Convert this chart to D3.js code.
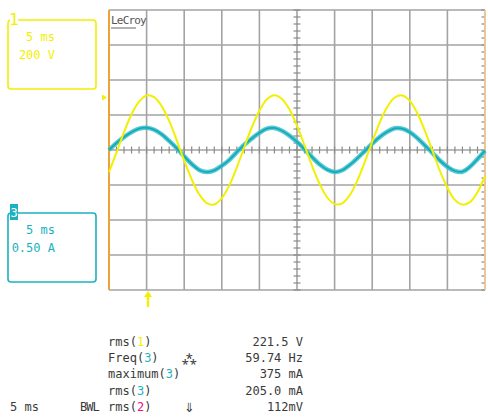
<!DOCTYPE html>
<html>
<head>
<meta charset="utf-8">
<title>LeCroy capture</title>
<script src="https://cdn.jsdelivr.net/npm/d3@7"></script>
<style>
  body { margin: 0; background: #fff; }
  svg { display: block; }
  text { font-family: "DejaVu Sans Mono", "Liberation Mono", monospace; }
</style>
</head>
<body>
<div id="scope"></div>
<script>
// time base, ms (5 ms/div, 10 div)
const timeMs = d3.range(0, 51);
// channel 1, volts (200 V/div)
const ch1Volts = [-127, -14, 102, 204, 276, 311, 302, 251, 166, 57,
  -60, -168, -253, -303, -311, -275, -202, -99, 17, 130,
  224, 290, 313, 292, 232, 139, 26, -90, -193, -270,
  -309, -305, -259, -177, -70, 47, 157, 246, 300, 312,
  281, 210, 111, -4, -119, -216, -285, -312, -298, -241, -150];
// channel 3, mA (0.50 A/div)
const ch3MilliAmps = [0, 100, 185, 255, 305, 318, 290, 225, 130, 25,
  -90, -200, -285, -315, -290, -225, -140, -30, 75, 165,
  245, 305, 315, 275, 205, 115, 10, -100, -205, -280,
  -315, -290, -215, -120, -15, 90, 185, 260, 310, 305,
  255, 170, 65, -40, -150, -240, -300, -310, -240, -130, -10];

const measLabels = ["rms(", "Freq(", "maximum(", "rms(", "rms("];
const measChannels = ["1", "3", "3", "3", "2"];
const measIcons = ["", "\u2042", "", "", "\u21D3"];
const measValues = ["221.5 V", "59.74 Hz", "375 mA", "205.0 mA", "112mV"];

const colors = { "1": "#f2f000", "2": "#e8147c", "3": "#1ab2c0" };

const W = 488, H = 419;
const svg = d3.select("#scope").append("svg").attr("width", W).attr("height", H);

const x = d3.scaleLinear().domain([0, 50]).range([109, 485]);
const yV = d3.scaleLinear().domain([-800, 800]).range([290, 10]);
const yI = d3.scaleLinear().domain([-2000, 2000]).range([290, 10]);

// grid
const grid = svg.append("g").attr("stroke", "#a3a3a3").attr("stroke-width", 1.6);
grid.selectAll(".v").data(x.ticks(10)).join("line")
  .attr("x1", d => x(d)).attr("x2", d => x(d)).attr("y1", yV(800)).attr("y2", yV(-800));
grid.selectAll(".h").data(yV.ticks(8)).join("line")
  .attr("x1", x(0)).attr("x2", x(50)).attr("y1", d => yV(d)).attr("y2", d => yV(d));

// minor ticks on the centre cross
const minor = svg.append("g").attr("stroke", "#8a8a8a").attr("stroke-width", 1.2);
minor.selectAll(".mx").data(d3.range(0, 50.01, 1)).join("line")
  .attr("x1", d => x(d)).attr("x2", d => x(d)).attr("y1", yV(0) - 3.5).attr("y2", yV(0) + 3.5);
minor.selectAll(".my").data(d3.range(-800, 800.1, 40)).join("line")
  .attr("x1", x(25) - 3.5).attr("x2", x(25) + 3.5).attr("y1", d => yV(d)).attr("y2", d => yV(d));
minor.selectAll(".mr").data(d3.range(-800, 800.1, 40)).join("line")
  .attr("x1", x(50) - 3.5).attr("x2", x(50)).attr("y1", d => yV(d)).attr("y2", d => yV(d));

// edges
svg.append("line").attr("x1", x(0)).attr("x2", x(0)).attr("y1", yV(800)).attr("y2", yV(-800))
  .attr("stroke", "#eea23a").attr("stroke-width", 2);
svg.append("line").attr("x1", x(50)).attr("x2", x(50)).attr("y1", yV(800)).attr("y2", yV(-800))
  .attr("stroke", "#f8cf92").attr("stroke-width", 1.6);

// traces
const lineI = d3.line().x((d, i) => x(timeMs[i])).y(d => yI(d)).curve(d3.curveCatmullRom);
const lineV = d3.line().x((d, i) => x(timeMs[i])).y(d => yV(d)).curve(d3.curveCatmullRom);
svg.append("path").datum(ch3MilliAmps).attr("d", lineI)
  .attr("fill", "none").attr("stroke", "#3cc0cb").attr("stroke-width", 4.5).attr("opacity", 0.85);
svg.append("path").datum(ch3MilliAmps).attr("d", lineI)
  .attr("fill", "none").attr("stroke", "#14abb9").attr("stroke-width", 1.8);
svg.append("path").datum(ch1Volts).attr("d", lineV)
  .attr("fill", "none").attr("stroke", colors["1"]).attr("stroke-width", 2);

// LeCroy logo
svg.append("text").attr("x", 111).attr("y", 24).attr("font-size", 11)
  .attr("fill", "#555").attr("letter-spacing", -0.8).text("LeCroy");
svg.append("line").attr("x1", 111).attr("x2", 136).attr("y1", 28).attr("y2", 28)
  .attr("stroke", "#666").attr("stroke-width", 1);

// offset marker ch1 and trigger arrow
svg.append("path").attr("d", "M102,94.5L107,97.5L102,100.5Z").attr("fill", colors["1"]);
svg.append("path").attr("d", "M148,291L144,297H146.8V307H149.2V297H152Z").attr("fill", colors["1"]);

// channel boxes
function chanBox(ch, y0, lines, filledTag) {
  const g = svg.append("g");
  g.append("rect").attr("x", 8).attr("y", y0).attr("width", 88).attr("height", 69).attr("rx", 3)
    .attr("fill", "none").attr("stroke", colors[ch]).attr("stroke-width", 1.6);
  if (filledTag) {
    g.append("rect").attr("x", 10).attr("y", y0 - 9).attr("width", 8).attr("height", 16)
      .attr("fill", colors[ch]);
    g.append("text").attr("x", 14).attr("y", y0 + 4).attr("text-anchor", "middle")
      .attr("font-size", 12).attr("fill", "#fff").text(ch);
  } else {
    g.append("rect").attr("x", 10).attr("y", y0 - 2).attr("width", 8).attr("height", 4).attr("fill", "#fff");
    g.append("text").attr("x", 14).attr("y", y0 + 5).attr("text-anchor", "middle")
      .attr("font-size", 16).attr("fill", colors[ch]).text(ch);
  }
  g.selectAll(".t").data(lines).join("text")
    .attr("x", 55).attr("y", (d, i) => y0 + 21 + i * 18).attr("text-anchor", "end")
    .attr("font-size", 12).attr("fill", colors[ch]).text(d => d);
}
chanBox("1", 20, ["5 ms", "200 V"], false);
chanBox("3", 213, ["5 ms", "0.50 A"], true);

// measurements
const meas = svg.append("g").attr("font-size", 12).attr("fill", "#3a3a3a");
measLabels.forEach((lab, i) => {
  const yy = 346 + i * 16.2;
  const t = meas.append("text").attr("x", 108).attr("y", yy);
  t.append("tspan").text(lab);
  t.append("tspan").attr("fill", colors[measChannels[i]]).text(measChannels[i]);
  t.append("tspan").text(")");
  if (measIcons[i]) meas.append("text").attr("x", 189).attr("y", yy + 1).attr("text-anchor", "middle")
    .attr("font-size", i === 4 ? 17 : 13).text(measIcons[i]);
  meas.append("text").attr("x", 303).attr("y", yy).attr("text-anchor", "end").text(measValues[i]);
});
svg.append("text").attr("x", 10).attr("y", 411).attr("font-size", 12).attr("fill", "#3a3a3a").text("5 ms");
svg.append("text").attr("x", 80).attr("y", 411).attr("font-size", 12).attr("fill", "#3a3a3a")
  .attr("letter-spacing", -1).text("BWL");
</script>
</body>
</html>
